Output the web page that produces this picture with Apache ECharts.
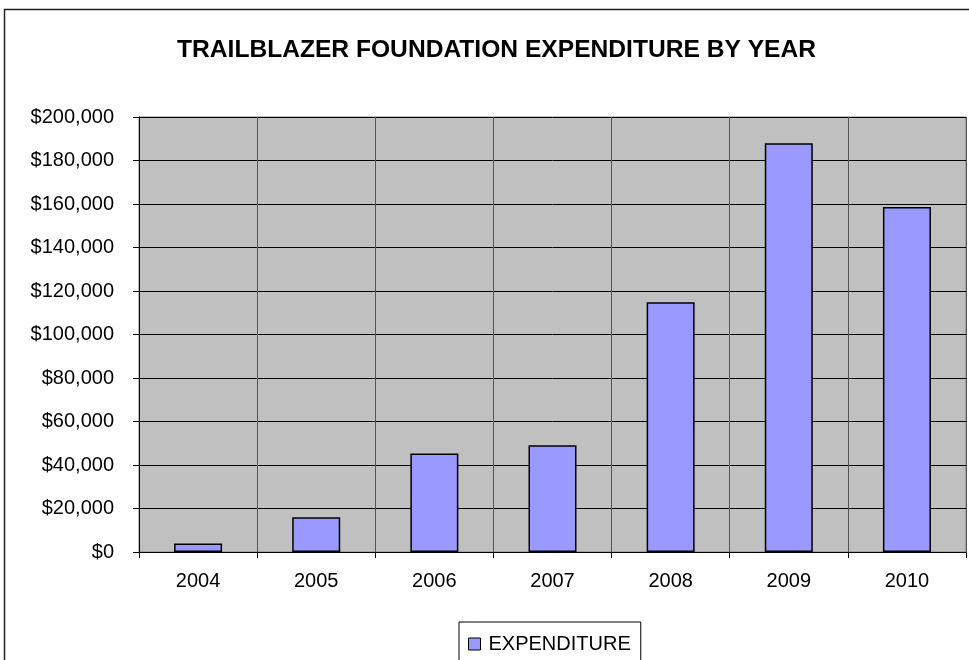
<!DOCTYPE html>
<html>
<head>
<meta charset="utf-8">
<script src="https://cdn.jsdelivr.net/npm/echarts@6/dist/echarts.min.js"></script>
<style>
html,body{margin:0;padding:0;background:#fff;}
#chart{width:969px;height:660px;}
</style>
</head>
<body>
<div id="chart"></div>
<script>
var titleText = 'TRAILBLAZER FOUNDATION EXPENDITURE BY YEAR';
var seriesName = 'EXPENDITURE';
var years = ['2004', '2005', '2006', '2007', '2008', '2009', '2010'];
var expenditure = [3900, 16000, 45300, 49100, 114800, 187900, 158600];
var yMin = 0, yMax = 200000, yStep = 20000;

var chart = echarts.init(document.getElementById('chart'));
var FONT = '"Liberation Sans", Arial, sans-serif';
chart.setOption({
  animation: false,
  backgroundColor: '#ffffff',
  graphic: [{
    type: 'rect',
    shape: {x: 4.5, y: 9.5, width: 1200, height: 900},
    style: {fill: 'none', stroke: '#222', lineWidth: 1.5},
    silent: true, z: -1
  }],
  title: {
    text: titleText,
    left: 172,
    top: 33,
    textStyle: {fontFamily: FONT, fontSize: 24.6, fontWeight: 'bold', color: '#000'}
  },
  legend: {
    data: [seriesName],
    left: 459,
    top: 622,
    padding: [12, 10, 12, 9],
    itemWidth: 12,
    itemHeight: 12,
    borderColor: '#000',
    borderWidth: 1,
    icon: 'rect',
    itemStyle: {borderColor: '#000', borderWidth: 1},
    textStyle: {fontFamily: FONT, fontSize: 20, color: '#000', padding: [0, 0, 0, 3]}
  },
  grid: {
    left: 139, right: 3, top: 117, bottom: 108,
    show: true,
    backgroundColor: '#c0c0c0',
    borderColor: '#808080',
    borderWidth: 1
  },
  xAxis: {
    type: 'category',
    data: years,
    boundaryGap: true,
    axisLine: {show: true, lineStyle: {color: '#000', width: 1}},
    axisTick: {show: true, length: 6, alignWithLabel: false, lineStyle: {color: '#000'}},
    splitLine: {show: true, lineStyle: {color: '#555', width: 1}},
    axisLabel: {fontFamily: FONT, fontSize: 20, color: '#000', margin: 19}
  },
  yAxis: {
    type: 'value',
    min: yMin, max: yMax, interval: yStep,
    axisLine: {show: true, lineStyle: {color: '#000', width: 1}},
    axisTick: {show: true, length: 6, lineStyle: {color: '#000'}},
    splitLine: {show: true, lineStyle: {color: '#000', width: 1}},
    axisLabel: {
      fontFamily: FONT, fontSize: 20, color: '#000', margin: 25,
      formatter: function (v) { return '$' + v.toLocaleString('en-US'); }
    }
  },
  series: [{
    name: seriesName,
    type: 'bar',
    data: expenditure,
    barWidth: 48,
    itemStyle: {color: '#9999ff', borderColor: '#000', borderWidth: 1.5}
  }]
});
</script>
</body>
</html>
